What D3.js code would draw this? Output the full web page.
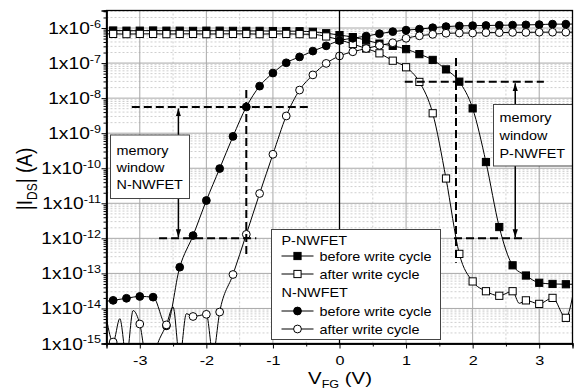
<!DOCTYPE html>
<html>
<head>
<meta charset="utf-8">
<script src="https://cdn.jsdelivr.net/npm/d3@7"></script>
<style>
  body { margin: 0; background: #fff; }
  svg { display: block; }
  text { font-family: "Liberation Sans", Arial, sans-serif; fill: #000; }
</style>
</head>
<body>
<div id="chart"></div>
<script>
// gate voltage grid (V) shared by most curves
const vGrid = [-3.5, -3.4, -3.2, -3.0, -2.8, -2.6, -2.4, -2.2, -2.0, -1.8, -1.6, -1.4, -1.2, -1.0, -0.8, -0.6,
  -0.4, -0.2, 0, 0.2, 0.4, 0.6, 0.8, 1.0, 1.2, 1.4, 1.6, 1.8, 2.0, 2.2, 2.4, 2.6, 2.8, 3.0, 3.2, 3.4, 3.5];

// P-NWFET, before write cycle (A)
const pBefore = [8.4e-7, 8.5e-7, 8.4e-7, 8.4e-7, 8.5e-7, 8.4e-7, 8.4e-7, 8.3e-7, 8.4e-7, 8.4e-7, 8.3e-7, 8.3e-7,
  8.3e-7, 8.2e-7, 8.2e-7, 8.1e-7, 7.8e-7, 7.1e-7, 6.3e-7, 5.5e-7, 4.5e-7, 3.6e-7, 3.1e-7, 2.5e-7, 1.8e-7, 1.23e-7,
  6.6e-8, 2.95e-8, 5.1e-9, 1.5e-10, 2.1e-12, 1.7e-13, 8.7e-14, 5.4e-14, 5.0e-14, 4.9e-14, 4.9e-14];

// P-NWFET, after write cycle
const vPAfter = [-3.5, -3.4, -3.2, -3.0, -2.8, -2.6, -2.4, -2.2, -2.0, -1.8, -1.6, -1.4, -1.2, -1.0, -0.8, -0.6,
  -0.4, -0.2, 0, 0.2, 0.4, 0.6, 0.8, 1.0, 1.2, 1.4, 1.6, 1.8, 2.0, 2.2, 2.4, 2.6, 2.7, 2.8, 3.0, 3.2, 3.4, 3.5];
const pAfter = [6.8e-7, 6.8e-7, 6.7e-7, 6.8e-7, 6.8e-7, 6.7e-7, 6.8e-7, 6.8e-7, 6.7e-7, 6.8e-7, 6.8e-7, 6.8e-7,
  6.7e-7, 6.8e-7, 6.8e-7, 6.7e-7, 6.6e-7, 5.75e-7, 4.6e-7, 3.5e-7, 2.6e-7, 1.9e-7, 1.17e-7, 7.6e-8, 2.9e-8, 3.7e-9,
  5.1e-11, 3.6e-13, 5.9e-14, 3.1e-14, 2.3e-14, 3.1e-14, 1.4e-14, 1.7e-14, 1.35e-14, 2.0e-14, 5.4e-15, 2.1e-14];

// N-NWFET, before write cycle
const nBefore = [1.6e-14, 1.7e-14, 1.95e-14, 2.2e-14, 2.1e-14, 3.2e-15, 1.5e-13, 1.2e-12, 1.2e-11, 9.8e-11, 8.1e-10,
  5.6e-9, 2.2e-8, 5.2e-8, 1.02e-7, 1.5e-7, 2.2e-7, 3.1e-7, 4.4e-7, 5.1e-7, 5.9e-7, 6.9e-7, 7.9e-7, 8.7e-7, 9.3e-7,
  1.02e-6, 1.1e-6, 1.15e-6, 1.17e-6, 1.18e-6, 1.2e-6, 1.21e-6, 1.23e-6, 1.25e-6, 1.29e-6, 1.29e-6, 1.3e-6];

// N-NWFET, after write cycle (noisy off-state, finer steps)
const vNAfter = [-3.5, -3.4, -3.3, -3.2, -3.1, -3.0, -2.9, -2.8, -2.7, -2.6, -2.5, -2.4, -2.3, -2.2, -2.1, -2.0,
  -1.9, -1.8, -1.6, -1.4, -1.2, -1.0, -0.8, -0.6, -0.4, -0.2, 0, 0.2, 0.4, 0.6, 0.8, 1.0, 1.2, 1.4, 1.6, 1.8, 2.0,
  2.2, 2.4, 2.6, 2.8, 3.0, 3.2, 3.4, 3.5];
const nAfter = [5.1e-15, 1.1e-15, 5.1e-15, 4e-16, 8.7e-15, 3.6e-15, 4e-16, 5e-16, 1.4e-15, 3.4e-15, 1.1e-14, 4e-16,
  7.1e-15, 5.9e-15, 6.3e-15, 6.8e-15, 5e-16, 7.9e-15, 9.3e-14, 1.3e-12, 1.9e-11, 2.5e-10, 3.1e-9, 1.7e-8, 4.6e-8,
  9.8e-8, 1.6e-7, 2.1e-7, 2.6e-7, 3.2e-7, 3.8e-7, 5.1e-7, 6.0e-7, 6.6e-7, 7.1e-7, 7.2e-7, 7.2e-7, 7.4e-7, 7.4e-7,
  7.5e-7, 7.5e-7, 7.6e-7, 7.6e-7, 7.6e-7, 7.6e-7];

const xTicks = [-3, -2, -1, 0, 1, 2, 3];
const yTickExp = [-15, -14, -13, -12, -11, -10, -9, -8, -7, -6];

// memory window guide lines
const dashH = [
  { v0: -3.12, v1: -0.45, i: 5.6e-9 }, { v0: -2.71, v1: -1.25, i: 1e-12 },
  { v0: 0.98, v1: 3.07, i: 2.95e-8 }, { v0: 1.72, v1: 2.76, i: 1e-12 }
];
const dashV = [{ v: -1.4, i0: 1.7e-8, i1: 3.2e-13 }, { v: 1.75, i0: 1.39e-7, i1: 2.0e-13 }];
const arrows = [{ v: -2.42, i0: 5.6e-9, i1: 1e-12 }, { v: 2.64, i0: 2.95e-8, i1: 1e-12 }];

const W = 574, H = 390;
const SX = 1.2; // text in the picture is stretched sideways

const x = d3.scaleLinear().domain([-3.5, 3.5]).range([106.5, 572.5]);
const y = d3.scaleLog().domain([1e-15, Math.pow(10, -5.5)]).range([343.5, 10.5]);
const [x0, x1] = x.range(), [y0, y1] = y.range();

const svg = d3.select("#chart").append("svg").attr("width", W).attr("height", H);
svg.append("rect").attr("width", W).attr("height", H).attr("fill", "#fff");

const defs = svg.append("defs");
defs.append("clipPath").attr("id", "plot").append("rect")
  .attr("x", x0).attr("y", y1).attr("width", x1 - x0).attr("height", y0 - y1);
defs.append("marker").attr("id", "head")
  .attr("viewBox", "0 -3 8 6").attr("refX", 8).attr("refY", 0)
  .attr("markerWidth", 8).attr("markerHeight", 6)
  .attr("markerUnits", "userSpaceOnUse").attr("orient", "auto-start-reverse")
  .append("path").attr("d", "M0,-2.6L8,0L0,2.6Z").attr("fill", "#000");

function stext(parent, px, py, anchor, size) {
  return parent.append("text")
    .attr("transform", `translate(${px},${py}) scale(${SX},1)`)
    .attr("text-anchor", anchor).attr("font-size", size);
}

// grid
const decades = yTickExp.map(e => Math.pow(10, e));
const minorY = [];
decades.forEach(d => { for (let k = 2; k <= 9; k++) if (d * k <= y.domain()[1]) minorY.push(d * k); });
const grid = svg.append("g");
grid.selectAll(".my").data(minorY).enter().append("line")
  .attr("x1", x0).attr("x2", x1).attr("y1", d => y(d)).attr("y2", d => y(d))
  .attr("stroke", "#cfcfcf").attr("stroke-dasharray", "2,2");
grid.selectAll(".mx").data([-2.5, -1.5, -0.5, 0.5, 1.5, 2.5]).enter().append("line")
  .attr("y1", y0).attr("y2", y1).attr("x1", d => x(d)).attr("x2", d => x(d))
  .attr("stroke", "#cfcfcf").attr("stroke-dasharray", "2,2");
grid.selectAll(".gy").data(decades).enter().append("line")
  .attr("x1", x0).attr("x2", x1).attr("y1", d => y(d)).attr("y2", d => y(d))
  .attr("stroke", "#a8a8a8");
grid.selectAll(".gx").data(xTicks).enter().append("line")
  .attr("y1", y0).attr("y2", y1).attr("x1", d => x(d)).attr("x2", d => x(d))
  .attr("stroke", "#a8a8a8");

// curves
const series = [
  { v: vGrid, i: pBefore, shape: "square", fill: "#000" },
  { v: vPAfter, i: pAfter, shape: "square", fill: "#fff" },
  { v: vGrid, i: nBefore, shape: "circle", fill: "#000" },
  { v: vNAfter, i: nAfter, shape: "circle", fill: "#fff" }
];
const isMarked = v => Math.abs(v) <= 3.4001 && Math.abs(v * 5 - Math.round(v * 5)) < 1e-6;
const line = d3.line().x(d => x(d[0])).y(d => y(d[1])).curve(d3.curveMonotoneX);

function drawMarker(g, shape, fill, px, py) {
  if (shape === "square") {
    g.append("rect").attr("x", px - 3.6).attr("y", py - 3.6).attr("width", 7.2).attr("height", 7.2)
      .attr("fill", fill).attr("stroke", "#000").attr("stroke-width", 1);
  } else {
    g.append("circle").attr("cx", px).attr("cy", py).attr("r", 3.9)
      .attr("fill", fill).attr("stroke", "#000").attr("stroke-width", 1);
  }
}

const plot = svg.append("g").attr("clip-path", "url(#plot)");
series.forEach(s => {
  const pts = s.v.map((v, k) => [v, s.i[k]]);
  plot.append("path").datum(pts).attr("d", line)
    .attr("fill", "none").attr("stroke", "#000").attr("stroke-width", 1);
  const mg = plot.append("g");
  pts.filter(p => isMarked(p[0])).forEach(p => drawMarker(mg, s.shape, s.fill, x(p[0]), y(p[1])));
});

// vertical line at V = 0
svg.append("line").attr("x1", x(0)).attr("x2", x(0)).attr("y1", y1).attr("y2", y0)
  .attr("stroke", "#000").attr("stroke-width", 1.3);

// memory window guides
const ann = svg.append("g").attr("stroke", "#000").attr("stroke-width", 2).attr("stroke-dasharray", "8,4");
ann.selectAll(".h").data(dashH).enter().append("line")
  .attr("x1", d => x(d.v0)).attr("x2", d => x(d.v1)).attr("y1", d => y(d.i)).attr("y2", d => y(d.i));
ann.selectAll(".v").data(dashV).enter().append("line")
  .attr("x1", d => x(d.v)).attr("x2", d => x(d.v)).attr("y1", d => y(d.i0)).attr("y2", d => y(d.i1));
svg.selectAll(".arr").data(arrows).enter().append("line")
  .attr("x1", d => x(d.v)).attr("x2", d => x(d.v))
  .attr("y1", d => y(d.i0) + 1.5).attr("y2", d => y(d.i1) - 1)
  .attr("stroke", "#000").attr("stroke-width", 1.5)
  .attr("marker-start", "url(#head)").attr("marker-end", "url(#head)");

// text boxes
function noteBox(bx, by, bw, bh, lines, tx, ty0, dy) {
  svg.append("rect").attr("x", bx).attr("y", by).attr("width", bw).attr("height", bh)
    .attr("fill", "#fff").attr("stroke", "#444").attr("stroke-width", 1);
  lines.forEach((t, k) => stext(svg, tx, ty0 + k * dy, "start", 12).text(t));
}
noteBox(110.5, 135, 79, 63.5, ["memory", "window", "N-NWFET"], 116.5, 154.5, 17.3);
noteBox(493.5, 104.5, 79, 61.5, ["memory", "window", "P-NWFET"], 499.5, 122, 17.8);

// legend
const leg = svg.append("g");
leg.append("rect").attr("x", 271.5).attr("y", 229.5).attr("width", 169).attr("height", 110)
  .attr("fill", "#fff").attr("stroke", "#444").attr("stroke-width", 1);
const legendRows = [
  { head: "P-NWFET", y: 244.5 },
  { label: "before write cycle", y: 256, s: series[0] },
  { label: "after write cycle", y: 274, s: series[1] },
  { head: "N-NWFET", y: 297 },
  { label: "before write cycle", y: 311, s: series[2] },
  { label: "after write cycle", y: 329, s: series[3] }
];
legendRows.forEach(r => {
  if (r.head) { stext(leg, 281.5, r.y, "start", 12).text(r.head); return; }
  leg.append("line").attr("x1", 281.5).attr("x2", 313.5).attr("y1", r.y).attr("y2", r.y)
    .attr("stroke", "#000").attr("stroke-width", 1);
  drawMarker(leg, r.s.shape, r.s.fill, 297.5, r.y);
  stext(leg, 319.5, r.y + 4.5, "start", 12).text(r.label);
});

// frame and axes
svg.append("rect").attr("x", x0).attr("y", y1).attr("width", x1 - x0).attr("height", y0 - y1)
  .attr("fill", "none").attr("stroke", "#000").attr("stroke-width", 1.3);

const xa = svg.append("g").attr("transform", `translate(0,${y0})`)
  .call(d3.axisBottom(x).tickValues(xTicks).tickSize(5).tickPadding(7).tickFormat(d => String(d)));
xa.selectAll("text").attr("font-size", 13.5).attr("transform", `scale(${SX},1)`)
  .style("font-family", '"Liberation Sans", Arial, sans-serif');
svg.append("g").attr("transform", `translate(0,${y0})`)
  .call(d3.axisBottom(x).tickValues([-2.5, -1.5, -0.5, 0.5, 1.5, 2.5]).tickSize(3).tickFormat(""));

svg.append("g").attr("transform", `translate(${x0},0)`)
  .call(d3.axisLeft(y).tickValues(decades).tickSize(5).tickFormat(""));
svg.append("g").attr("transform", `translate(${x0},0)`)
  .call(d3.axisLeft(y).tickValues(minorY).tickSize(3).tickFormat(""));
svg.selectAll(".domain").attr("stroke-width", 1.3);

yTickExp.forEach(e => {
  const t = stext(svg, 101, y(Math.pow(10, e)) + 6, "end", 16);
  t.append("tspan").text("1x10");
  t.append("tspan").attr("font-size", 10.5).attr("dy", -6.5).text(String(e));
});

// axis titles
const xt = stext(svg, 340, 384, "middle", 17);
xt.append("tspan").text("V");
xt.append("tspan").attr("font-size", 10.5).attr("dy", 4).text("FG");
xt.append("tspan").attr("dy", -4).text(" (V)");

const yt = svg.append("text").attr("transform", `translate(32,179) scale(${SX},1) rotate(-90)`)
  .attr("text-anchor", "middle").attr("font-size", 19);
yt.append("tspan").text("|I");
yt.append("tspan").attr("font-size", 12).attr("dy", 4).text("DS");
yt.append("tspan").attr("dy", -4).text("| (A)");
</script>
</body>
</html>
